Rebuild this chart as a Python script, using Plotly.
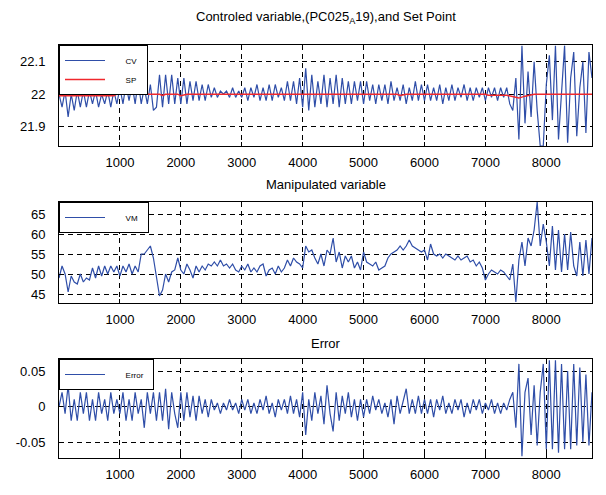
import plotly.graph_objects as go

# ---------------- data ----------------
sample = list(range(0, 8751, 50))

cv = [
    22.00, 21.96, 22.01, 21.93, 22.00, 21.95, 22.01, 21.96, 22.01, 21.96,
    22.01, 21.97, 22.01, 21.96, 22.00, 21.97, 22.01, 21.96, 22.01, 21.97,
    22.02, 21.97, 22.03, 21.98, 22.03, 21.97, 22.04, 21.97, 22.02, 21.97,
    22.03, 21.95, 21.96, 22.06, 21.96, 22.06, 21.97, 22.06, 21.97, 22.05,
    21.97, 22.05, 21.97, 22.04, 21.98, 22.04, 21.98, 22.03, 21.98, 22.03,
    21.99, 22.02, 21.99, 22.01, 22.00, 22.01, 21.99, 22.02, 21.99, 22.01,
    21.99, 22.02, 21.98, 22.02, 21.99, 22.03, 21.98, 22.02, 21.98, 22.03,
    21.98, 22.03, 21.99, 22.02, 21.98, 22.04, 21.98, 22.04, 21.97, 22.05,
    21.96, 22.08, 21.95, 22.06, 21.96, 22.04, 21.97, 22.06, 21.96, 22.05,
    21.97, 22.06, 21.96, 22.05, 21.97, 22.04, 21.97, 22.04, 21.98, 22.04,
    21.97, 22.04, 21.98, 22.03, 21.97, 22.03, 21.98, 22.03, 21.97, 22.04,
    21.98, 22.02, 21.98, 22.03, 21.97, 22.02, 21.98, 22.04, 21.98, 22.03,
    21.98, 22.03, 21.98, 22.02, 21.98, 22.03, 21.97, 22.02, 21.98, 22.03,
    21.98, 22.02, 21.99, 22.03, 21.98, 22.02, 21.98, 22.02, 21.99, 22.02,
    21.98, 22.02, 21.99, 22.02, 21.98, 22.02, 21.99, 22.02, 21.97, 21.95,
    22.05, 21.86, 22.15, 21.91, 22.07, 21.93, 22.10, 21.95, 21.84, 21.84,
    22.03, 22.12, 21.92, 22.15, 21.86, 22.00, 22.15, 21.85, 22.05, 22.13,
    21.87, 22.02, 22.10, 21.88, 22.13, 22.05,
]

sp_sample = [0, 900, 950, 1650, 1700, 1750, 1950, 2000, 2100, 5550, 5600, 5700,
             7000, 7050, 7350, 7450, 7550, 7650, 7700, 7800, 8750]
sp = [21.995, 21.995, 22.000, 22.000, 21.996, 22.000, 22.000, 21.995, 22.000, 22.000,
      21.996, 22.000, 22.000, 21.997, 21.997, 21.993, 21.988, 21.994, 21.996, 22.000, 22.000]

mv = [
    49.0, 52.0, 50.0, 45.5, 49.5, 48.0, 47.5, 50.0, 48.0, 49.0,
    48.5, 51.5, 49.0, 52.0, 49.5, 52.0, 50.0, 52.0, 50.5, 52.0,
    49.5, 52.0, 50.5, 52.5, 50.0, 52.0, 50.5, 55.0, 55.0, 56.0,
    57.0, 54.0, 49.0, 44.5, 46.0, 50.0, 48.0, 50.5, 51.0, 54.0,
    51.0, 50.0, 52.5, 51.0, 49.0, 52.0, 50.5, 52.0, 51.0, 52.5,
    52.0, 53.0, 52.0, 53.5, 52.0, 52.5, 51.5, 52.5, 51.0, 50.5,
    52.0, 51.0, 52.5, 50.5, 51.5, 50.5, 52.0, 52.5, 49.5, 51.0,
    51.5, 50.0, 52.0, 50.5, 51.5, 53.5, 52.0, 54.0, 53.0, 52.5,
    51.5, 57.0, 55.5, 56.0, 54.0, 52.5, 55.0, 52.0, 56.0, 55.0,
    59.0, 53.0, 55.5, 51.5, 54.5, 53.0, 54.5, 51.5, 53.0, 51.0,
    55.5, 53.0, 52.5, 52.0, 53.0, 51.0, 51.5, 52.0, 54.0, 55.0,
    55.5, 56.0, 57.0, 56.0, 57.0, 58.5, 57.0, 56.5, 56.0, 55.5,
    56.0, 53.5, 57.5, 55.0, 54.5, 55.0, 54.0, 55.0, 54.5, 54.0,
    53.5, 54.5, 53.5, 54.0, 54.5, 53.0, 53.5, 52.0, 53.0, 51.5,
    48.5, 50.0, 51.0, 50.5, 50.0, 51.0, 50.5, 49.5, 48.5, 52.5,
    43.0, 53.5, 58.0, 52.0, 59.0, 57.0, 61.0, 68.0, 57.0, 62.5,
    58.0, 52.0, 62.0, 51.0, 61.0, 50.5, 60.0, 51.0, 60.5, 52.0,
    49.5, 58.0, 49.5, 58.5, 50.0, 59.0,
]

err = [
    0.000, 0.020, -0.010, 0.030, -0.020, 0.010, -0.020, 0.020, -0.010, 0.020,
    -0.020, 0.010, -0.020, 0.020, -0.010, 0.010, -0.020, 0.020, -0.010, 0.010,
    -0.010, 0.020, -0.020, 0.010, -0.020, 0.020, -0.010, 0.010, -0.030, 0.020,
    -0.010, 0.020, -0.020, 0.020, -0.020, 0.025, -0.032, 0.020, -0.010, -0.030,
    0.020, -0.020, 0.020, -0.015, 0.015, -0.020, 0.015, -0.010, 0.010, -0.015,
    0.010, -0.005, 0.005, -0.010, 0.005, -0.005, 0.010, -0.005, 0.005, -0.010,
    0.010, -0.005, 0.010, -0.010, 0.005, -0.010, 0.010, -0.005, 0.015, -0.010,
    0.005, -0.015, 0.010, -0.005, 0.010, -0.010, 0.015, -0.010, 0.010, -0.015,
    0.020, -0.040, 0.010, -0.020, 0.020, -0.010, 0.015, -0.025, 0.030, -0.010,
    -0.035, 0.020, -0.020, 0.015, -0.010, 0.020, -0.015, 0.010, -0.020, 0.010,
    -0.015, 0.010, -0.010, 0.015, -0.005, 0.010, -0.010, 0.005, -0.015, 0.010,
    -0.025, 0.015, -0.010, 0.010, 0.025, -0.010, 0.010, -0.010, 0.015, -0.010,
    0.010, -0.010, 0.010, -0.015, 0.010, -0.005, 0.015, -0.010, 0.005, -0.010,
    0.010, -0.005, 0.010, -0.015, 0.005, -0.010, 0.010, -0.005, 0.010, -0.010,
    0.005, -0.005, 0.010, -0.010, 0.005, -0.010, 0.005, -0.005, 0.010, 0.020,
    -0.030, 0.060, -0.070, 0.020, 0.040, -0.040, 0.030, -0.055, 0.020, 0.060,
    -0.060, 0.065, -0.060, 0.065, -0.065, 0.060, -0.060, 0.050, -0.060, 0.060,
    -0.055, 0.055, -0.050, 0.045, -0.055, 0.020,
]

x_ticks = [1000, 2000, 3000, 4000, 5000, 6000, 7000, 8000]
cv_ticks = [21.9, 22.0, 22.1]
cv_tick_text = ["21.9", "22", "22.1"]
mv_ticks = [45, 50, 55, 60, 65]
err_ticks = [-0.05, 0.0, 0.05]
err_tick_text = ["-0.05", "0", "0.05"]

titles = ["Controled variable,(PC025<sub>A</sub>19),and Set Point",
          "Manipulated variable", "Error"]

# ---------------- figure ----------------
BLUE = "#2f4ea8"
RED = "#f0282d"
FONT = "Liberation Sans"
NB = "\u00a0"


def label(s):
    return NB * 7 + s + NB * 2


fig = go.Figure()
fig.add_trace(go.Scatter(x=sample, y=cv, mode="lines", name=label("CV"),
                         line=dict(color=BLUE, width=1.2), xaxis="x", yaxis="y",
                         legend="legend"))
fig.add_trace(go.Scatter(x=sp_sample, y=sp, mode="lines", name=label("SP"),
                         line=dict(color=RED, width=1.5), xaxis="x", yaxis="y",
                         legend="legend"))
fig.add_trace(go.Scatter(x=sample, y=mv, mode="lines", name=label("VM"),
                         line=dict(color=BLUE, width=1.2), xaxis="x2", yaxis="y2",
                         legend="legend2"))
fig.add_trace(go.Scatter(x=sample, y=err, mode="lines", name=label("Error"),
                         line=dict(color=BLUE, width=1.2), xaxis="x3", yaxis="y3",
                         legend="legend3"))

xdom = [59 / 606, 592 / 606]
ydoms = [[1 - 146 / 495, 1 - 45 / 495],
         [1 - 303 / 495, 1 - 202 / 495],
         [1 - 458 / 495, 1 - 359 / 495]]

grid_common = dict(showgrid=True, gridcolor="black", gridwidth=1, griddash="5px,4px",
                   showline=True, linecolor="black", linewidth=1, mirror=True,
                   ticks="inside", ticklen=4, tickcolor="black", zeroline=False,
                   tickfont=dict(family=FONT, size=13, color="black"))

xaxis_common = dict(grid_common, range=[0, 8750], tickvals=x_ticks, ticklabelstandoff=4)

layout = dict(
    width=606, height=495,
    margin=dict(l=0, r=0, t=0, b=0),
    paper_bgcolor="white", plot_bgcolor="white",
    font=dict(family=FONT, color="black"),
    xaxis=dict(xaxis_common, domain=xdom, anchor="y"),
    xaxis2=dict(xaxis_common, domain=xdom, anchor="y2"),
    xaxis3=dict(xaxis_common, domain=xdom, anchor="y3"),
    yaxis=dict(grid_common, domain=ydoms[0], anchor="x", range=[21.84, 22.152],
               tickvals=cv_ticks, ticktext=cv_tick_text, ticklabelstandoff=10),
    yaxis2=dict(grid_common, domain=ydoms[1], anchor="x2", range=[42.75, 68.0],
                tickvals=mv_ticks, ticklabelstandoff=10),
    yaxis3=dict(grid_common, domain=ydoms[2], anchor="x3", range=[-0.0725, 0.0669],
                tickvals=err_ticks, ticktext=err_tick_text, ticklabelstandoff=10),
    showlegend=True,
)

for key, top in (("legend", ydoms[0][1]), ("legend2", ydoms[1][1]), ("legend3", ydoms[2][1])):
    layout[key] = dict(x=xdom[0], y=top, xanchor="left", yanchor="top",
                       bgcolor="white", bordercolor="black", borderwidth=1,
                       font=dict(family=FONT, size=8, color="black"),
                       itemwidth=40, tracegroupgap=0)

title_y = [1 - 17 / 495, 1 - 185 / 495, 1 - 343 / 495]
layout["annotations"] = [
    dict(text=t, x=(xdom[0] + xdom[1]) / 2, y=yy, xref="paper", yref="paper",
         xanchor="center", yanchor="middle", showarrow=False,
         font=dict(family=FONT, size=13, color="black"))
    for t, yy in zip(titles, title_y)
]

fig.update_layout(**layout)
fig.write_html("out.html")
